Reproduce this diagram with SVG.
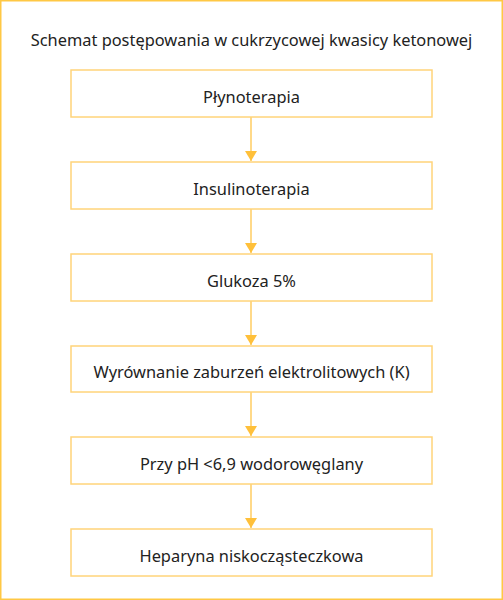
<svg xmlns="http://www.w3.org/2000/svg" width="503" height="600" viewBox="0 0 503 600">
<defs>
<style>
.frame{fill:#fff;stroke:#FFC844;stroke-width:1.5}
.box{fill:#fff;stroke:#FFD47A;stroke-width:1.5}
.lbl{font-family:"Noto Sans","Open Sans",sans-serif;font-size:16.4px;fill:#222;text-anchor:middle}
.title{font-family:"Noto Sans","Open Sans",sans-serif;font-size:16.4px;fill:#222;text-anchor:middle}
.edge{stroke:#FFC03A;stroke-width:1.2;fill:none}
</style>
<marker id="ah" viewBox="0 0 10 12" refX="10" refY="6" markerWidth="10" markerHeight="12" markerUnits="userSpaceOnUse" orient="auto">
<path d="M0,0 L10,6 L0,12 Z" fill="#FFC03A"/>
</marker>
</defs>
<rect class="frame" x="0.75" y="0.75" width="501.5" height="598.5"/>
<text class="title" x="251.5" y="45.5">Schemat postępowania w cukrzycowej kwasicy ketonowej</text>
<g id="connectors">
<line class="edge" x1="251" y1="117" x2="251" y2="161" marker-end="url(#ah)"/>
<line class="edge" x1="251" y1="209" x2="251" y2="253" marker-end="url(#ah)"/>
<line class="edge" x1="251" y1="301" x2="251" y2="345" marker-end="url(#ah)"/>
<line class="edge" x1="251" y1="392" x2="251" y2="436" marker-end="url(#ah)"/>
<line class="edge" x1="251" y1="484" x2="251" y2="528" marker-end="url(#ah)"/>
</g>
<g id="n1"><rect class="box" x="71" y="70" width="361" height="47"/><text class="lbl" x="251.5" y="102.5">Płynoterapia</text></g>
<g id="n2"><rect class="box" x="71" y="162" width="361" height="47"/><text class="lbl" x="251.5" y="194.5">Insulinoterapia</text></g>
<g id="n3"><rect class="box" x="71" y="254" width="361" height="47"/><text class="lbl" x="251.5" y="286.5">Glukoza 5%</text></g>
<g id="n4"><rect class="box" x="71" y="346" width="361" height="46"/><text class="lbl" x="251.5" y="378">Wyrównanie zaburzeń elektrolitowych (K)</text></g>
<g id="n5"><rect class="box" x="71" y="437" width="361" height="47"/><text class="lbl" x="251.5" y="469.5">Przy pH &lt;6,9 wodorowęglany</text></g>
<g id="n6"><rect class="box" x="71" y="529" width="361" height="47"/><text class="lbl" x="251.5" y="561.5">Heparyna niskocząsteczkowa</text></g>
</svg>
